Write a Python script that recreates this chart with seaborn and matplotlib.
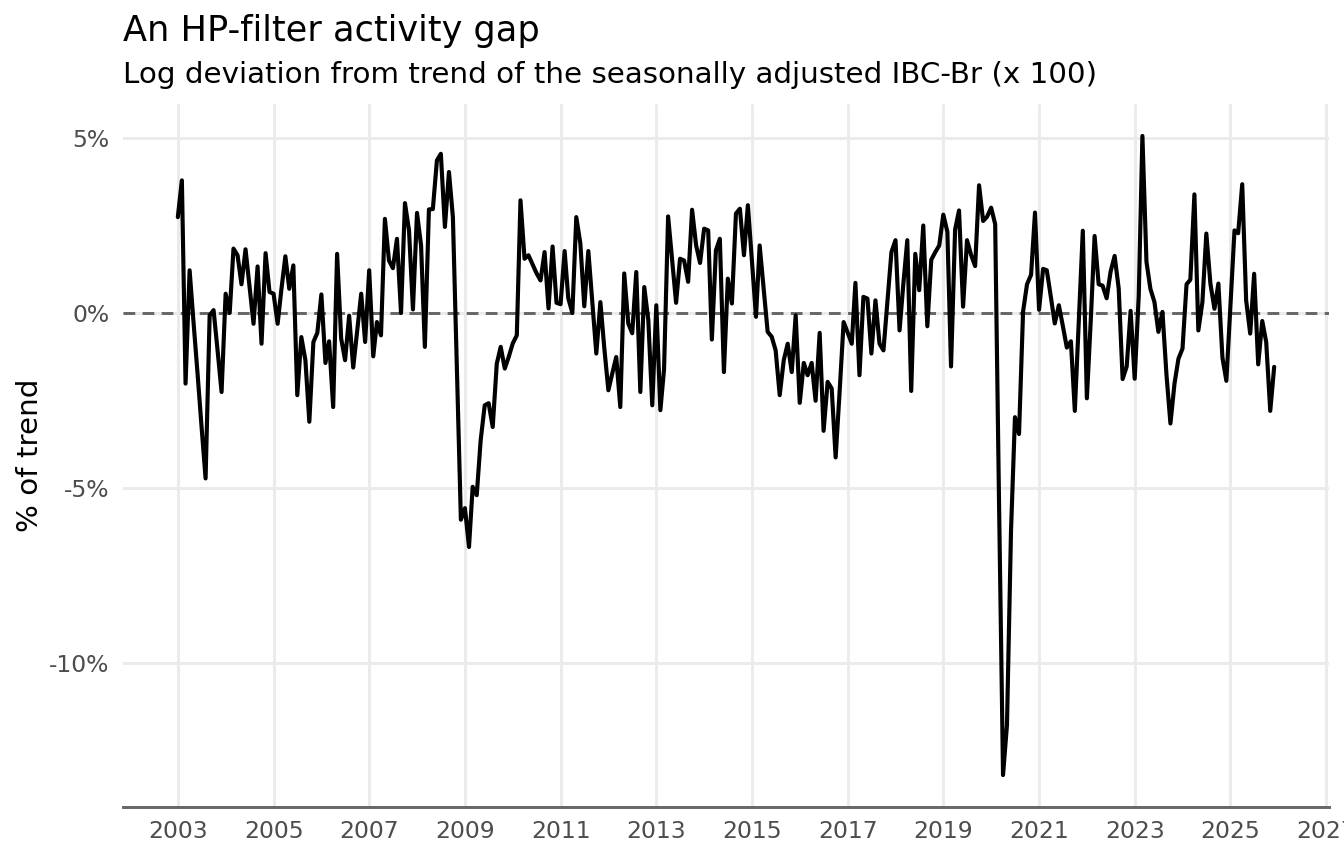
import pandas as pd
import matplotlib
matplotlib.use("Agg")
import matplotlib.pyplot as plt
import seaborn as sns

# monthly HP-filter gap of the IBC-Br, % of trend
gap_2003 = [2.75, 3.80, -2.01, 1.23, -0.26, -1.74, -3.23, -4.72, -0.06, 0.09, -1.08, -2.25]
gap_2004 = [0.56, 0.01, 1.85, 1.66, 0.83, 1.83, 0.77, -0.30, 1.34, -0.87, 1.72, 0.61]
gap_2005 = [0.56, -0.30, 0.66, 1.63, 0.70, 1.37, -2.34, -0.68, -1.34, -3.10, -0.82, -0.56]
gap_2006 = [0.54, -1.42, -0.80, -2.68, 1.70, -0.72, -1.34, -0.07, -1.55, -0.50, 0.56, -0.82]
gap_2007 = [1.23, -1.23, -0.25, -0.63, 2.70, 1.51, 1.29, 2.13, 0.01, 3.15, 2.37, 0.11]
gap_2008 = [2.87, 1.94, -0.96, 2.97, 2.98, 4.37, 4.56, 2.47, 4.04, 2.75, -1.60, -5.90]
gap_2009 = [-5.57, -6.68, -4.96, -5.20, -3.63, -2.63, -2.57, -3.25, -1.44, -0.96, -1.58, -1.25]
gap_2010 = [-0.86, -0.63, 3.23, 1.56, 1.66, 1.40, 1.15, 0.94, 1.75, 0.14, 1.91, 0.30]
gap_2011 = [0.26, 1.78, 0.43, 0.01, 2.75, 2.00, 0.20, 1.78, 0.30, -1.15, 0.32, -1.00]
gap_2012 = [-2.20, -1.70, -1.25, -2.68, 1.14, -0.29, -0.57, 1.18, -2.25, 0.75, -0.20, -2.63]
gap_2013 = [0.23, -2.77, -1.60, 2.77, 1.57, 0.30, 1.56, 1.51, 0.90, 2.96, 1.94, 1.44]
gap_2014 = [2.42, 2.37, -0.75, 1.80, 2.13, -1.68, 0.99, 0.28, 2.85, 2.99, 1.66, 3.09]
gap_2015 = [1.50, -0.10, 1.94, 0.70, -0.53, -0.67, -1.06, -2.34, -1.34, -0.87, -1.68, -0.06]
gap_2016 = [-2.56, -1.42, -1.77, -1.42, -2.50, -0.56, -3.36, -1.96, -2.15, -4.12, -2.20, -0.25]
gap_2017 = [-0.55, -0.87, 0.87, -1.77, 0.47, 0.42, -1.15, 0.37, -0.87, -1.06, 0.35, 1.75]
gap_2018 = [2.09, -0.49, 0.80, 2.09, -2.22, 1.70, 0.66, 2.51, -0.37, 1.53, 1.75, 1.94]
gap_2019 = [2.82, 2.33, -1.52, 2.39, 2.94, 0.19, 2.09, 1.67, 1.35, 3.66, 2.64, 2.76]
gap_2020 = [3.02, 2.55, -5.30, -13.20, -11.77, -6.20, -2.97, -3.45, 0.05, 0.83, 1.10, 2.88]
gap_2021 = [0.10, 1.27, 1.23, 0.47, -0.29, 0.23, -0.35, -0.98, -0.80, -2.79, -0.20, 2.36]
gap_2022 = [-2.43, -0.10, 2.21, 0.83, 0.79, 0.43, 1.19, 1.64, 0.71, -1.88, -1.52, 0.07]
gap_2023 = [-1.87, 0.50, 5.07, 1.47, 0.70, 0.32, -0.53, 0.04, -1.77, -3.15, -2.01, -1.30]
gap_2024 = [-1.01, 0.83, 0.96, 3.40, -0.49, 0.32, 2.28, 0.85, 0.13, 0.85, -1.27, -1.93]
gap_2025 = [0.20, 2.37, 2.29, 3.69, 0.37, -0.58, 1.13, -1.46, -0.22, -0.82, -2.79, -1.53]

start_month = "2003-01-01"
tick_years = list(range(2003, 2028, 2))
y_ticks = [-10, -5, 0, 5]
y_tick_labels = ["-10%", "-5%", "0%", "5%"]

title = "An HP-filter activity gap"
subtitle = "Log deviation from trend of the seasonally adjusted IBC-Br (x 100)"
y_title = "% of trend"

gap = (gap_2003 + gap_2004 + gap_2005 + gap_2006 + gap_2007 + gap_2008
       + gap_2009 + gap_2010 + gap_2011 + gap_2012 + gap_2013 + gap_2014
       + gap_2015 + gap_2016 + gap_2017 + gap_2018 + gap_2019 + gap_2020
       + gap_2021 + gap_2022 + gap_2023 + gap_2024 + gap_2025)
df = pd.DataFrame({
    "date": pd.date_range(start_month, periods=len(gap), freq="MS"),
    "gap": gap,
})

sns.set_theme(style="white")
plt.rcParams["font.family"] = ["DejaVu Sans"]

W, H = 1344, 864
fig = plt.figure(figsize=(7, 4.5), dpi=192)
ax = fig.add_axes([123 / W, 1 - 807 / H, (1329 - 123) / W, (807 - 104) / H])

ax.axhline(0, color="#666666", lw=1.1, ls=(0, (4, 2.5)), zorder=2)
sns.lineplot(data=df, x="date", y="gap", color="black", linewidth=1.55, ax=ax, zorder=3)

# ggplot-like 5% expansion
span = df["date"].max() - df["date"].min()
ax.set_xlim(df["date"].min() - span * 0.05, df["date"].max() + span * 0.05)
lo, hi = df["gap"].min(), df["gap"].max()
pad = (hi - lo) * 0.05
ax.set_ylim(lo - pad, hi + pad)

ax.set_xticks(pd.to_datetime([f"{y}-01-01" for y in tick_years]))
ax.set_xticklabels([str(y) for y in tick_years])
ax.set_yticks(y_ticks)
ax.set_yticklabels(y_tick_labels)

ax.grid(True, color="#EBEBEB", lw=1.1)
ax.set_axisbelow(True)
for side in ["top", "right", "left"]:
    ax.spines[side].set_visible(False)
ax.spines["bottom"].set_color("#666666")
ax.spines["bottom"].set_linewidth(1.1)

ax.tick_params(axis="x", length=2.75, width=1.1, color="#666666",
               labelcolor="#4D4D4D", labelsize=8.8, pad=2.2)
ax.tick_params(axis="y", length=0, labelcolor="#4D4D4D", labelsize=8.8, pad=5)

ax.set_xlabel("")
ax.set_ylabel(y_title, fontsize=11, color="black", labelpad=2)

fig.text(123 / W, 1 - 41 / H, title, fontsize=13.2, color="black", va="baseline")
fig.text(123 / W, 1 - 83 / H, subtitle, fontsize=11, color="black", va="baseline")

fig.savefig("out.png", dpi=192)
